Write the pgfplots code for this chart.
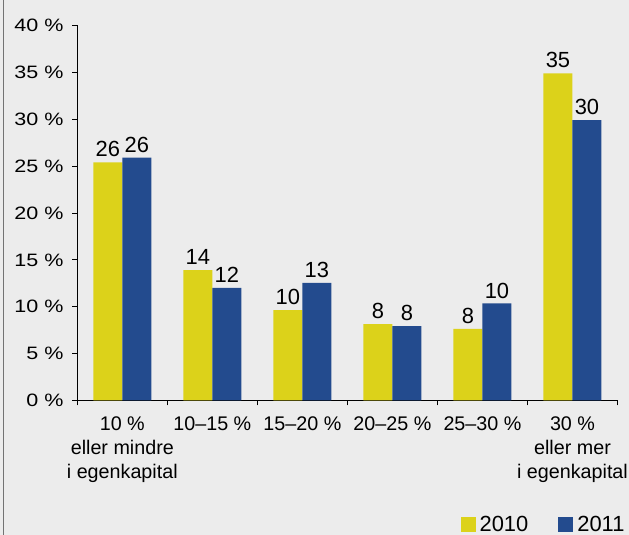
\documentclass[border=0pt]{standalone}
\usepackage{fontspec}
\setmainfont{Liberation Sans}
\usepackage{graphicx}
\usepackage{pgfplots}
\pgfplotsset{compat=1.18}
\definecolor{bg}{HTML}{ECECEC}
\definecolor{ylw}{HTML}{DCD21A}
\definecolor{blu}{HTML}{234B8E}
\begin{document}
\fontsize{17}{24}\selectfont
\begin{tikzpicture}[x=1bp,y=1bp]
\fill[bg] (0,0) rectangle (629,535);
\useasboundingbox (0,0) rectangle (629,535);
\draw[black!55, line width=1.5bp] (3.5,0) -- (3.5,535);
\begin{axis}[
  at={(77.3bp,134.5bp)}, anchor=south west,
  width=540.2bp, height=375bp, scale only axis,
  xmin=-0.5, xmax=5.5, ymin=0, ymax=40,
  axis x line=bottom, axis y line=left,
  axis line style={-, black, line width=0.8bp},
  /pgf/number format/assume math mode=true,
  ytick={0,5,...,40},
  yticklabel={\scalebox{1.2}[1]{\pgfmathprintnumber{\tick}~\%}},
  yticklabel style={font=\fontsize{18}{20}\selectfont, xshift=-3bp},
  tick align=outside, major tick length=5bp, minor tick length=5bp,
  major x tick style={draw=none},
  minor x tick style={black, line width=0.8bp},
  y tick style={black, line width=0.8bp},
  xtick={0,...,5}, minor xtick={-0.5,0.5,...,5.5},
  xticklabels={{10 \%\\eller mindre\\i egenkapital}, 10–15 \%, 15–20 \%, 20–25 \%, 25–30 \%, {30 \%\\eller mer\\i egenkapital}},
  xticklabel style={align=center, anchor=north, font=\fontsize{19.8}{24.5}\selectfont, yshift=-5bp},
  ybar=0pt, bar width=29bp,
  nodes near coords, point meta=explicit symbolic,
  every node near coord/.append style={font=\fontsize{22}{24}\selectfont, inner sep=1bp, yshift=4bp},
  legend columns=2,
  legend style={at={(1.017,-0.331)}, anchor=east, draw=none, fill=none,
    font=\fontsize{22}{24}\selectfont, inner sep=0pt,
    /tikz/every even column/.append style={column sep=28bp}},
  legend image code/.code={\fill[#1] (0bp,-7.5bp) rectangle (15bp,7.5bp); \path (17bp,0bp);},
]
\addplot[fill=ylw, draw=none] coordinates {
  (0,25.4) [26] (1,13.9) [14] (2,9.63) [10] (3,8.14) [8] (4,7.64) [8] (5,34.9) [35]};
\addplot[fill=blu, draw=none] coordinates {
  (0,25.9) [26] (1,12.0) [12] (2,12.55) [13] (3,7.93) [8] (4,10.35) [10] (5,29.9) [30]};
\legend{2010,2011}
\end{axis}
\end{tikzpicture}
\end{document}
